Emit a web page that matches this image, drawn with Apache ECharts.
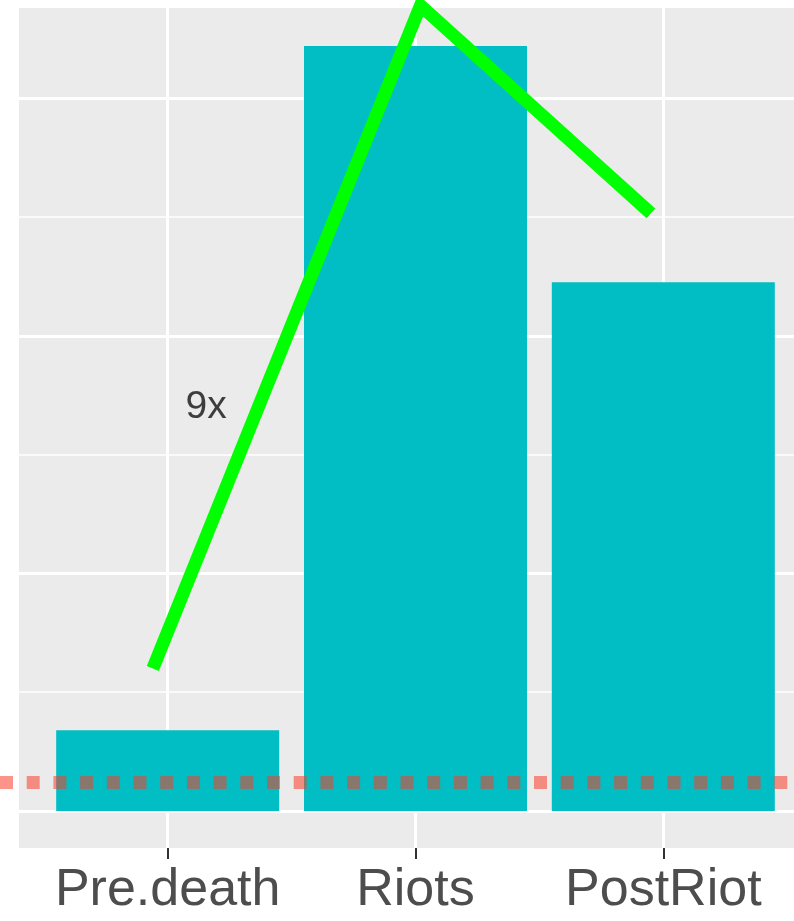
<!DOCTYPE html>
<html>
<head>
<meta charset="utf-8">
<script src="https://cdn.jsdelivr.net/npm/echarts@6/dist/echarts.min.js"></script>
<style>
html, body { margin: 0; padding: 0; background: #fff; }
#chart { width: 794px; height: 921px; }
</style>
</head>
<body>
<div id="chart"></div>
<script>
// 数据
var categories = ["Pre.death", "Riots", "PostRiot"];
var categoryPos = [1, 2, 3];
var barValues = [0.68, 6.44, 4.45];
var trendX = [0.94, 2.02, 2.95];
var trendY = [1.20, 6.78, 5.03];
var baselineValue = 0.24;
var majorBreaks = [0, 2, 4, 6];
var minorBreaks = [1, 3, 5];
var noteText = "9x";
var notePos = [1.155, 3.40];

var myChart = echarts.init(document.getElementById("chart"));

var gridLines = [];
majorBreaks.forEach(function (v) {
    gridLines.push({ yAxis: v, lineStyle: { width: 3 } });
});
minorBreaks.forEach(function (v) {
    gridLines.push({ yAxis: v, lineStyle: { width: 1.6 } });
});
categoryPos.forEach(function (v) {
    gridLines.push({ xAxis: v, lineStyle: { width: 3 } });
});

var option = {
    animation: false,
    grid: {
        left: 19,
        width: 793,
        top: 8,
        bottom: 73,
        outerBoundsMode: "none",
        show: true,
        backgroundColor: "#EBEBEB",
        borderWidth: 0
    },
    xAxis: {
        type: "value",
        min: 0.4,
        max: 3.6,
        axisLine: { show: true, onZero: false, lineStyle: { color: "rgba(0,0,0,0)" } },
        splitLine: { show: false },
        axisTick: {
            show: true,
            customValues: categoryPos,
            length: 11,
            lineStyle: { color: "#333333", width: 2 }
        },
        axisLabel: {
            customValues: categoryPos,
            margin: 17,
            color: "#4D4D4D",
            fontSize: 52,
            fontFamily: "Liberation Sans",
            formatter: function (v) {
                return categories[Math.round(v) - 1];
            }
        }
    },
    yAxis: {
        type: "value",
        min: -0.311,
        max: 6.759,
        axisLine: { show: false },
        axisTick: { show: false },
        axisLabel: { show: false },
        splitLine: { show: false }
    },
    series: [
        {
            type: "line",
            data: [],
            silent: true,
            markLine: {
                z: 1,
                silent: true,
                symbol: ["none", "none"],
                label: { show: false },
                lineStyle: { color: "#FFFFFF", type: "solid" },
                data: gridLines
            }
        },
        {
            type: "bar",
            z: 2,
            barWidth: 223,
            itemStyle: { color: "#00BEC4" },
            data: categoryPos.map(function (x, i) { return [x, barValues[i]]; })
        },
        {
            type: "line",
            data: [],
            silent: true,
            clip: false,
            markLine: {
                z: 4,
                silent: true,
                symbol: ["none", "none"],
                label: { show: false },
                lineStyle: {
                    color: "rgba(250,60,40,0.55)",
                    width: 13,
                    type: [13, 13.7],
                    cap: "butt"
                },
                data: [[{ x: 0, yAxis: baselineValue }, { x: "100%", yAxis: baselineValue }]]
            }
        },
        {
            type: "line",
            z: 5,
            clip: false,
            symbol: "none",
            lineStyle: { color: "#00FF00", width: 13, cap: "butt", join: "miter" },
            data: trendX.map(function (x, i) { return [x, trendY[i]]; })
        },
        {
            type: "scatter",
            z: 6,
            symbolSize: 0,
            label: {
                show: true,
                position: "inside",
                formatter: noteText,
                color: "#111111",
                textBorderWidth: 0,
                fontSize: 39,
                fontFamily: "Liberation Sans"
            },
            data: [notePos]
        }
    ]
};
myChart.setOption(option);
</script>
</body>
</html>
